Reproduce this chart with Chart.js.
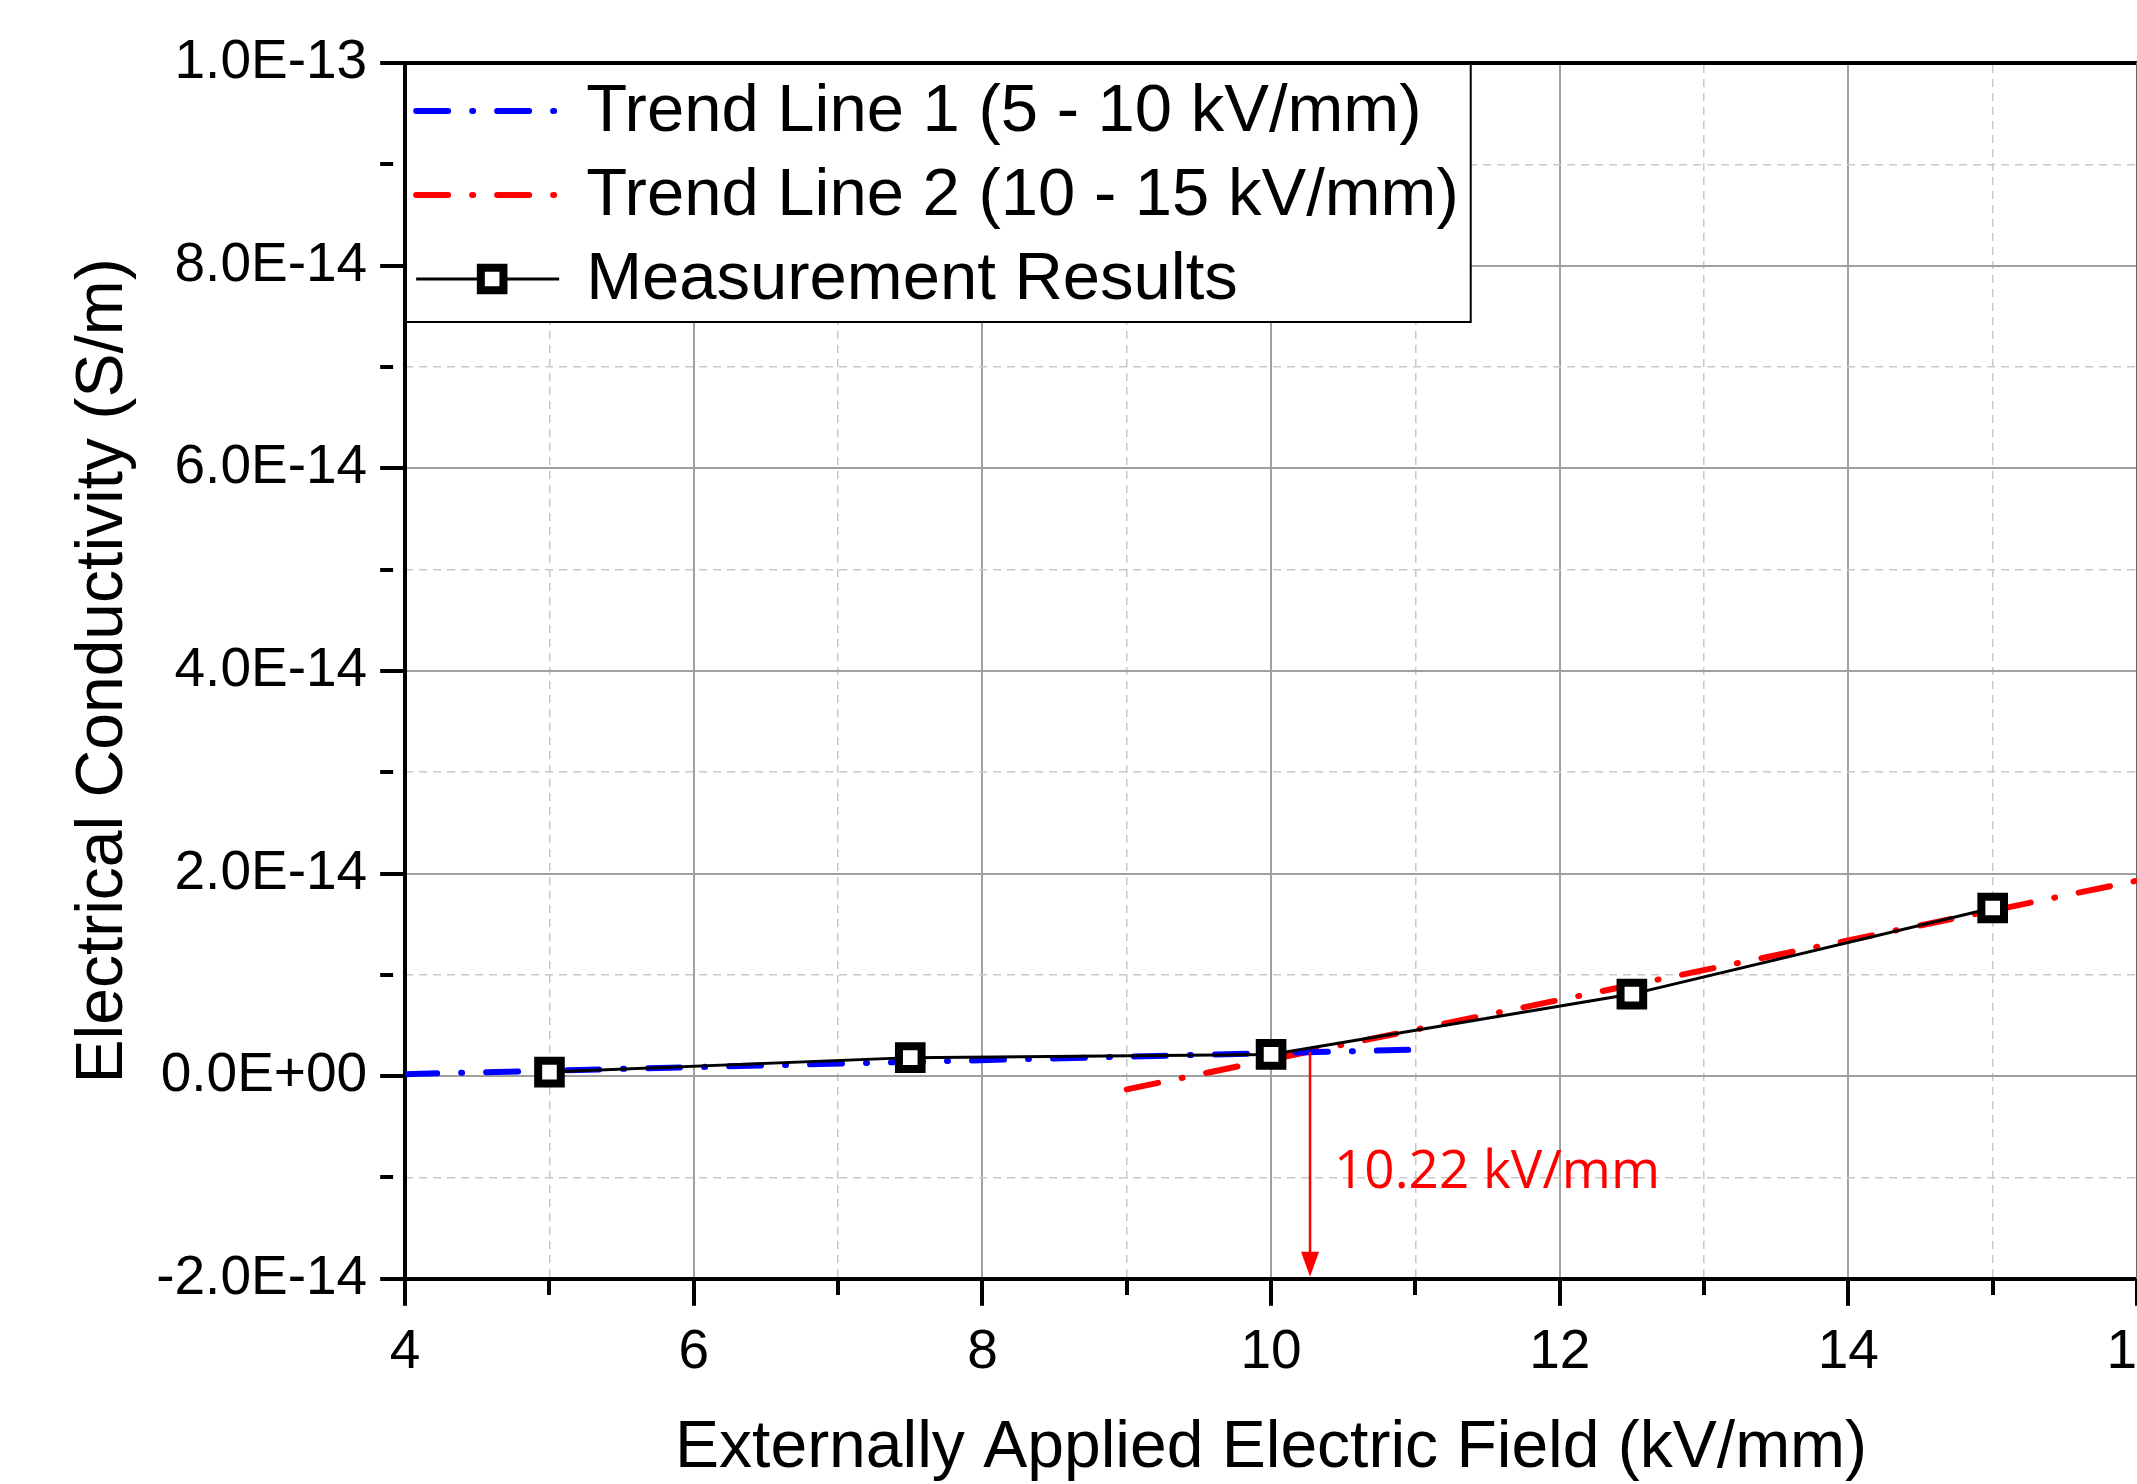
<!DOCTYPE html>
<html>
<head>
<meta charset="utf-8">
<title>Electrical Conductivity vs Applied Field</title>
<script src="https://cdn.jsdelivr.net/npm/chart.js@4.4.1/dist/chart.umd.min.js"></script>
<style>
  html, body { margin: 0; padding: 0; background: #fff; overflow: hidden; }
  canvas { display: block; }
</style>
</head>
<body>
<canvas id="conductivityChart" width="2300" height="1484"></canvas>
<script>
// values
const fieldValues = [5, 7.5, 10, 12.5, 15];
const conductivityValues = [0.4e-15, 1.83e-15, 2.15e-15, 8.1e-15, 1.66e-14];

const trend1X = [4, 10.95];
const trend1Y = [0.2e-15, 2.6e-15];
const trend2X = [9, 16];
const trend2Y = [-1.3e-15, 1.93e-14];

const seriesLabels = ['Trend Line 1 (5 - 10 kV/mm)', 'Trend Line 2 (10 - 15 kV/mm)', 'Measurement Results'];

const xMajorTicks = [4, 6, 8, 10, 12, 14, 16];
const xTickLabels = ['4', '6', '8', '10', '12', '14', '16'];
const xMinorTicks = [5, 7, 9, 11, 13, 15];
const yMajorTicks = [-2e-14, 0, 2e-14, 4e-14, 6e-14, 8e-14, 1e-13];
const yTickLabels = ['-2.0E-14', '0.0E+00', '2.0E-14', '4.0E-14', '6.0E-14', '8.0E-14', '1.0E-13'];
const yMinorTicks = [-1e-14, 1e-14, 3e-14, 5e-14, 7e-14, 9e-14];

// crossing point of the two trend lines (arrow position as drawn in the figure)
const crossField = 10.27;
const crossValue = 2.4e-15;
const crossLabel = '10.22 kV/mm';
const crossLabelY = -0.95e-14;

const FONT = '"Liberation Sans", Arial, sans-serif';
const DASHDOT = [32, 24, 1, 24];

function toPoints(xs, ys) {
    return xs.map((x, i) => ({ x: x, y: ys[i] }));
}

function tickList(major, minor) {
    return major.map(v => ({ value: v, minor: false }))
        .concat(minor.map(v => ({ value: v, minor: true })))
        .sort((a, b) => a.value - b.value);
}

function labelFor(value, ticks, labels) {
    const eps = Math.abs(ticks[1] - ticks[0]) * 1e-6;
    const i = ticks.findIndex(t => Math.abs(t - value) < eps);
    return i < 0 ? '' : labels[i];
}

const isMinor = c => c.tick && c.tick.minor;

// red arrow + label at the crossing point
const crossArrow = {
    id: 'crossArrow',
    afterDatasetsDraw(chart) {
        const { ctx, scales } = chart;
        const px = scales.x.getPixelForValue(crossField);
        const pTop = scales.y.getPixelForValue(crossValue);
        const pBot = scales.y.getPixelForValue(scales.y.min) - 2;
        ctx.save();
        ctx.strokeStyle = '#ff0000';
        ctx.fillStyle = '#ff0000';
        ctx.lineWidth = 2.5;
        ctx.beginPath();
        ctx.moveTo(px, pTop);
        ctx.lineTo(px, pBot - 20);
        ctx.stroke();
        ctx.beginPath();
        ctx.moveTo(px, pBot);
        ctx.lineTo(px - 9, pBot - 25);
        ctx.lineTo(px + 9, pBot - 25);
        ctx.closePath();
        ctx.fill();
        ctx.font = '53px "Open Sans", sans-serif';
        ctx.textBaseline = 'middle';
        ctx.fillText(crossLabel, px + 24, scales.y.getPixelForValue(crossLabelY));
        ctx.restore();
    }
};

// framed legend in the top left corner of the plot
const boxLegend = {
    id: 'boxLegend',
    afterDraw(chart) {
        const { ctx, chartArea } = chart;
        const left = chartArea.left, top = chartArea.top;
        const textX = left + 181;
        ctx.save();
        ctx.font = '67px ' + FONT;
        const widths = chart.data.datasets.map(ds => ctx.measureText(ds.label).width);
        const boxW = 181 + Math.max(...widths) + 12;
        const boxH = 259;
        ctx.fillStyle = '#fff';
        ctx.fillRect(left + 2, top + 2, boxW - 2, boxH - 2);
        ctx.strokeStyle = '#000';
        ctx.lineWidth = 2;
        ctx.strokeRect(left, top, boxW, boxH);

        chart.data.datasets.forEach((ds, i) => {
            const y = top + 48 + i * 84;
            ctx.save();
            ctx.strokeStyle = ds.borderColor;
            ctx.lineWidth = ds.borderWidth;
            ctx.lineCap = ds.borderCapStyle || 'butt';
            ctx.setLineDash(ds.borderDash || []);
            ctx.beginPath();
            ctx.moveTo(left + 11, y);
            ctx.lineTo(left + 154, y);
            ctx.stroke();
            ctx.restore();
            if (ds.pointRadius > 0) {
                const s = ds.pointRadius * Math.SQRT1_2;
                ctx.save();
                ctx.fillStyle = ds.pointBackgroundColor;
                ctx.strokeStyle = ds.pointBorderColor;
                ctx.lineWidth = ds.pointBorderWidth;
                ctx.beginPath();
                ctx.rect(left + 87 - s, y - s, 2 * s, 2 * s);
                ctx.fill();
                ctx.stroke();
                ctx.restore();
            }
            ctx.fillStyle = '#000';
            ctx.textBaseline = 'middle';
            ctx.fillText(ds.label, textX, y + 2);
        });
        ctx.restore();
    }
};

const ctx = document.getElementById('conductivityChart').getContext('2d');
const chart = new Chart(ctx, {
    type: 'scatter',
    data: {
        datasets: [{
            label: seriesLabels[0],
            data: toPoints(trend1X, trend1Y),
            showLine: true,
            borderColor: '#0000ff',
            borderWidth: 6,
            borderDash: DASHDOT,
            borderCapStyle: 'round',
            pointRadius: 0,
            order: 1
        }, {
            label: seriesLabels[1],
            data: toPoints(trend2X, trend2Y),
            showLine: true,
            borderColor: '#ff0000',
            borderWidth: 6,
            borderDash: DASHDOT,
            borderCapStyle: 'round',
            pointRadius: 0,
            order: 1
        }, {
            label: seriesLabels[2],
            data: toPoints(fieldValues, conductivityValues),
            showLine: true,
            borderColor: '#000',
            borderWidth: 3,
            pointStyle: 'rect',
            pointRadius: 16,
            pointBorderWidth: 8,
            pointBorderColor: '#000',
            pointBackgroundColor: '#fff',
            order: 0
        }]
    },
    options: {
        responsive: false,
        animation: false,
        devicePixelRatio: 1,
        events: [],
        layout: {
            padding: { left: 64, right: 163, top: 63, bottom: 0 }
        },
        scales: {
            x: {
                type: 'linear',
                position: 'bottom',
                min: 4,
                max: 16,
                afterBuildTicks: s => { s.ticks = tickList(xMajorTicks, xMinorTicks); },
                ticks: {
                    callback: v => labelFor(v, xMajorTicks, xTickLabels),
                    autoSkip: false,
                    maxRotation: 0,
                    padding: 14,
                    color: '#000',
                    font: { family: FONT, size: 55 }
                },
                grid: {
                    color: '#a0a0a0',
                    lineWidth: c => isMinor(c) ? 0 : 2,
                    tickColor: '#000',
                    tickWidth: 4,
                    tickLength: 27,
                    tickBorderDash: c => isMinor(c) ? [14, 200] : []
                },
                border: { color: '#000', width: 4 },
                title: {
                    display: true,
                    text: 'Externally Applied Electric Field (kV/mm)',
                    color: '#000',
                    font: { family: FONT, size: 66 },
                    padding: { top: 9, bottom: -4 }
                }
            },
            x2: {
                type: 'linear',
                position: 'top',
                min: 4,
                max: 16,
                afterBuildTicks: s => { s.ticks = tickList(xMajorTicks, xMinorTicks); },
                ticks: { display: false },
                grid: {
                    drawTicks: false,
                    color: '#c8c8c8',
                    lineWidth: c => isMinor(c) ? 1.5 : 0
                },
                border: { color: '#000', width: 4, dash: [8, 6] }
            },
            y: {
                type: 'linear',
                position: 'left',
                min: -2e-14,
                max: 1e-13,
                afterBuildTicks: s => { s.ticks = tickList(yMajorTicks, yMinorTicks); },
                ticks: {
                    callback: v => labelFor(v, yMajorTicks, yTickLabels),
                    autoSkip: false,
                    padding: 13,
                    color: '#000',
                    font: { family: FONT, size: 55 }
                },
                grid: {
                    color: '#a0a0a0',
                    lineWidth: c => isMinor(c) ? 0 : 2,
                    tickColor: '#000',
                    tickWidth: 4,
                    tickLength: 25,
                    tickBorderDash: c => isMinor(c) ? [13, 200] : []
                },
                border: { color: '#000', width: 4 },
                title: {
                    display: true,
                    text: 'Electrical Conductivity (S/m)',
                    color: '#000',
                    font: { family: FONT, size: 66 },
                    padding: { top: 0, bottom: 0 }
                }
            },
            y2: {
                type: 'linear',
                position: 'right',
                min: -2e-14,
                max: 1e-13,
                afterBuildTicks: s => { s.ticks = tickList(yMajorTicks, yMinorTicks); },
                ticks: { display: false },
                grid: {
                    drawTicks: false,
                    color: '#c8c8c8',
                    lineWidth: c => isMinor(c) ? 1.5 : 0
                },
                border: { color: '#666', width: 2, dash: [8, 6] }
            }
        },
        plugins: {
            legend: { display: false },
            tooltip: { enabled: false }
        }
    },
    plugins: [crossArrow, boxLegend]
});
</script>
</body>
</html>
